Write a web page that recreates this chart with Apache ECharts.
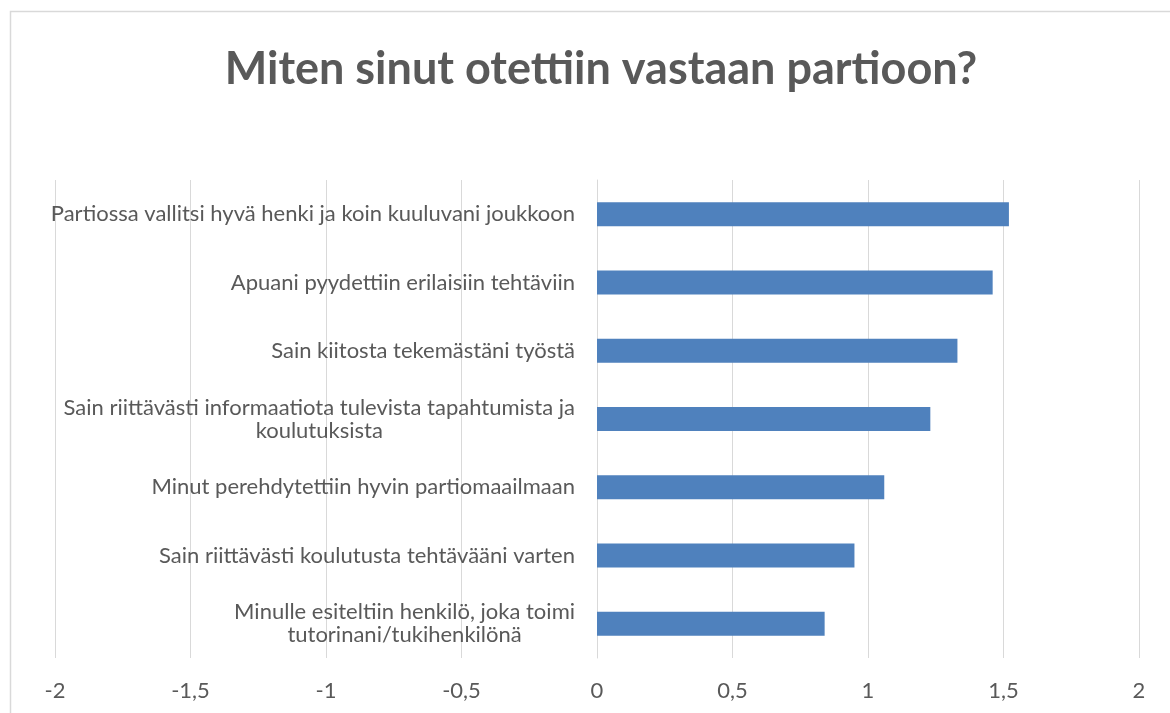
<!DOCTYPE html>
<html>
<head>
<meta charset="utf-8">
<script src="https://cdn.jsdelivr.net/npm/echarts@6/dist/echarts.min.js"></script>
<style>
  html, body { margin: 0; padding: 0; background: #fff; }
</style>
</head>
<body>
<!-- koko kuvan kokoinen kaavio -->
<div id="chart" style="width: 1170px;height:713px;"></div>
<script>
// kysymykset ylhäältä alas
var kysymykset = [
  'Partiossa vallitsi hyvä henki ja koin kuuluvani joukkoon',
  'Apuani pyydettiin erilaisiin tehtäviin',
  'Sain kiitosta tekemästäni työstä',
  'Sain riittävästi informaatiota tulevista tapahtumista ja\nkoulutuksista',
  'Minut perehdytettiin hyvin partiomaailmaan',
  'Sain riittävästi koulutusta tehtävääni varten',
  'Minulle esiteltiin henkilö, joka toimi\ntutorinani/tukihenkilönä'
];
// keskiarvot
var arvot = [1.52, 1.46, 1.33, 1.23, 1.06, 0.95, 0.84];
// x-akselin asteikko
var asteikkoMin = -2;
var asteikkoMax = 2;
var asteikkoVali = 0.5;

var otsikko = 'Miten sinut otettiin vastaan partioon?';

var myChart = echarts.init(document.getElementById('chart'));

var harmaa = '#595959';
var viiva = '#d9d9d9';
var fontti = 'Lato, "Open Sans", sans-serif';

// piirtoalueen reunat
var gridLeft = 55, gridRight = 31;
var gridWidth = 1170 - gridLeft - gridRight;
// y-akseli siirretään nollakohtaan (kuten Excelissä)
var nollaSiirto = gridWidth * (0 - asteikkoMin) / (asteikkoMax - asteikkoMin);

var option = {
  backgroundColor: '#fff',
  animation: false,
  title: {
    text: otsikko,
    left: 596,
    textAlign: 'center',
    top: 37,
    textStyle: {
      fontFamily: fontti,
      fontWeight: 'bold',
      fontSize: 45,
      lineHeight: 54,
      color: harmaa
    }
  },
  // kaavion reunaviiva (Excelin kaavioalue)
  graphic: [{
    type: 'rect',
    shape: { x: 10.5, y: 11.5, width: 1300, height: 900 },
    style: { fill: null, stroke: viiva, lineWidth: 1.5 },
    silent: true
  }],
  grid: {
    left: gridLeft,
    right: gridRight,
    top: 180,
    bottom: 55,
    outerBoundsMode: 'none'
  },
  xAxis: {
    type: 'value',
    min: asteikkoMin,
    max: asteikkoMax,
    interval: asteikkoVali,
    axisLine: { show: false },
    axisTick: { show: false },
    splitLine: { show: true, lineStyle: { color: viiva, width: 1 } },
    axisLabel: {
      margin: 22,
      fontFamily: fontti,
      fontSize: 22,
      color: harmaa,
      formatter: function (v) {
        return String(v).replace('.', ',');
      }
    }
  },
  yAxis: {
    type: 'category',
    inverse: true,
    data: kysymykset,
    offset: -nollaSiirto,
    axisLine: { show: true, onZero: false, lineStyle: { color: viiva } },
    axisTick: { show: false },
    axisLabel: {
      margin: 22,
      align: 'right',
      formatter: function (v) {
        // rivit keskitetään kuten Excelissä
        return v.split('\n').map(function (r) { return '{c|' + r + '}'; }).join('\n');
      },
      rich: {
        c: {
          align: 'center',
          fontFamily: fontti,
          fontSize: 22,
          lineHeight: 23,
          color: harmaa
        }
      }
    }
  },
  series: [{
    type: 'bar',
    data: arvot,
    barWidth: 24,
    itemStyle: { color: '#4f81bd' }
  }]
};

myChart.setOption(option);
</script>
</body>
</html>
